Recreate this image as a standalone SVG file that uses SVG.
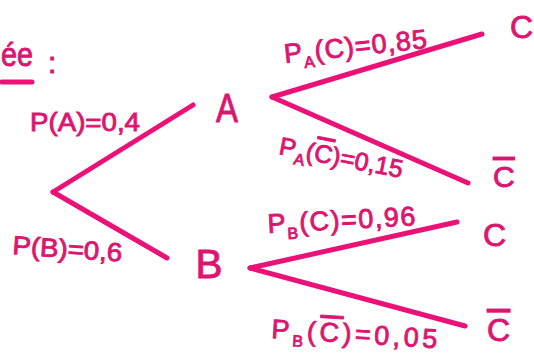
<svg xmlns="http://www.w3.org/2000/svg" width="534" height="356" viewBox="0 0 534 356">
<style>
.ink{fill:#dc1670;stroke:#dc1670;stroke-width:0.9;font-family:"Liberation Sans","DejaVu Sans",sans-serif;}
.lbl{font-size:27px;}
.node{font-size:40px;text-anchor:middle;}
.sub{font-size:16px;}
.bar{text-decoration:overline;}
.edge{stroke:#ea1277;stroke-width:5;stroke-linecap:round;fill:none;}
</style>
<rect width="534" height="356" fill="#ffffff"/>
<g id="title">
<text class="ink" x="1" y="66" font-size="33" textLength="32" lengthAdjust="spacingAndGlyphs">ée</text>
<line x1="2" y1="82" x2="32" y2="82" class="edge" stroke-width="4"/>
<text class="ink" x="48" y="73" font-size="30">:</text>
</g>
<g id="connectors">
<line class="edge" x1="53" y1="192" x2="193" y2="105"/>
<line class="edge" x1="53" y1="192" x2="167" y2="258"/>
<line class="edge" x1="272" y1="97" x2="482" y2="34"/>
<line class="edge" x1="272" y1="97" x2="468" y2="183"/>
<line class="edge" x1="250" y1="268" x2="457" y2="222"/>
<line class="edge" x1="250" y1="268" x2="465" y2="326"/>
</g>
<g id="node-A"><text class="ink node" x="227" y="122" textLength="22" lengthAdjust="spacingAndGlyphs">A</text></g>
<g id="node-B"><text class="ink node" x="209" y="278" textLength="27" lengthAdjust="spacingAndGlyphs">B</text></g>
<g id="node-C1"><text class="ink" x="510" y="38" font-size="32">C</text></g>
<g id="node-Cbar1"><text class="ink bar" x="493" y="187" font-size="30">C</text></g>
<g id="node-C2"><text class="ink" x="483" y="246" font-size="32">C</text></g>
<g id="node-Cbar2"><text class="ink bar" x="487" y="341" font-size="32">C</text></g>
<g id="labels">
<text class="ink" font-size="26" x="30" y="131" textLength="110" lengthAdjust="spacingAndGlyphs">P(A)=0,4</text>
<text class="ink" font-size="26" x="12" y="254" transform="rotate(4 12 254)" textLength="110" lengthAdjust="spacingAndGlyphs">P(B)=0,6</text>
<text class="ink lbl" x="285" y="63" letter-spacing="1" transform="rotate(-6 285 63)">P<tspan class="sub" dy="7">A</tspan><tspan dy="-7">(C)=0,85</tspan></text>
<text class="ink" font-size="25" x="278" y="154" transform="rotate(11 278 154)">P<tspan class="sub" dy="7">A</tspan><tspan dy="-7">(</tspan><tspan class="bar">C</tspan><tspan>)=0,15</tspan></text>
<text class="ink lbl" x="268" y="233" letter-spacing="1.5" transform="rotate(-3 268 233)">P<tspan class="sub" dy="7">B</tspan><tspan dy="-7">(C)=0,96</tspan></text>
<text class="ink lbl" x="271" y="338" letter-spacing="3.5" transform="rotate(3.5 271 338)">P<tspan class="sub" dy="7">B</tspan><tspan dy="-7">(</tspan><tspan class="bar">C</tspan><tspan>)=0,05</tspan></text>
</g>
</svg>
